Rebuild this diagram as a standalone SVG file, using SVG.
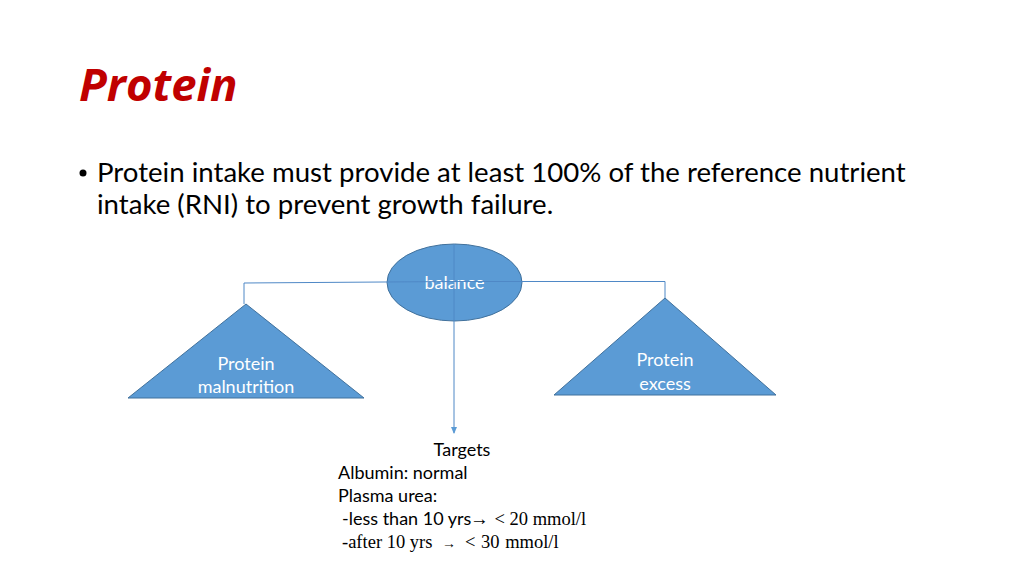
<svg xmlns="http://www.w3.org/2000/svg" width="1024" height="575" viewBox="0 0 1024 575">
<style>
.shape{fill:#5B9BD5;stroke:#41719C;stroke-width:1}
.conn{fill:none;stroke:#4F88C6;stroke-width:1}
.lbl{font-family:Lato,"Liberation Sans",sans-serif;font-size:18px;fill:#FFFFFF;text-anchor:middle}
.body{font-family:Lato,"Liberation Sans",sans-serif;font-size:27.6px;fill:#000}
.tg{font-family:Lato,"Liberation Sans",sans-serif;font-size:18px;fill:#000}
.tm{font-family:"Liberation Serif",serif;font-size:18.5px;fill:#000}
</style>
<defs>
<marker id="arr" markerWidth="8" markerHeight="8" refX="6" refY="4" orient="auto" markerUnits="userSpaceOnUse">
<path d="M0,1 L7,4 L0,7 Z" fill="#5B9BD5"/>
</marker>
</defs>
<rect width="1024" height="575" fill="#FFFFFF"/>
<text x="79" y="101" font-family="'Open Sans','Noto Sans',sans-serif" font-size="45.5" font-weight="bold" font-style="italic" fill="#C00000">Protein</text>
<g id="bullet">
<circle cx="83" cy="173" r="3.5" fill="#000"/>
<text class="body" x="97" y="182">Protein intake must provide at least 100% of the reference nutrient</text>
<text class="body" x="97" y="214">intake (RNI) to prevent growth failure.</text>
</g>
<g id="node-balance">
<ellipse class="shape" cx="454.5" cy="282.5" rx="67.5" ry="38.5"/>
<text class="lbl" x="454.5" y="289">balance</text>
</g>
<g id="node-malnutrition">
<polygon class="shape" points="246,304 364,398 128,398"/>
<text class="lbl" x="246" y="370">Protein</text>
<text class="lbl" x="246" y="393">malnutrition</text>
</g>
<g id="node-excess">
<polygon class="shape" points="665,298 776,395 554,395"/>
<text class="lbl" x="665" y="366">Protein</text>
<text class="lbl" x="665" y="390">excess</text>
</g>
<g id="connectors">
<polyline class="conn" points="244,304 244,283 454,281.5 665,281.5 665,298"/>
<line class="conn" x1="454" y1="244" x2="454" y2="433" marker-end="url(#arr)"/>
</g>
<g id="targets">
<text class="tg" x="462" y="456" text-anchor="middle">Targets</text>
<text class="tg" x="338" y="479">Albumin: normal</text>
<text class="tg" x="338" y="502">Plasma urea:</text>
<text x="342" y="525"><tspan class="tg">-less than 10 yrs</tspan><tspan class="tm" font-size="14" x="470">→</tspan><tspan class="tm" x="494.5">&lt; 20 mmol/l</tspan></text>
<text class="tm" x="342" y="548" font-size="19.3">-after 10 yrs<tspan font-size="14" x="442">→</tspan><tspan x="465" word-spacing="1">&lt; 30 mmol/l</tspan></text>
</g>
</svg>
